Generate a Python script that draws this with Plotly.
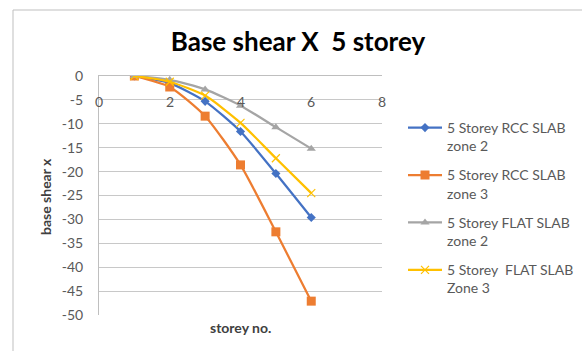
import plotly.graph_objects as go

storey = [1, 2, 3, 4, 5, 6]
rcc_zone2 = [0, -1.5, -5.3, -11.6, -20.4, -29.6]
rcc_zone3 = [0, -2.3, -8.4, -18.6, -32.6, -47.1]
flat_zone2 = [0, -0.8, -2.8, -6.2, -10.7, -15.2]
flat_zone3 = [0, -1.2, -4.1, -9.8, -17.2, -24.5]

names = ["5 Storey RCC SLAB<br>zone 2", "5 Storey RCC SLAB<br>zone 3",
         "5 Storey FLAT SLAB<br>zone 2", "5 Storey  FLAT SLAB<br>Zone 3"]
series = [rcc_zone2, rcc_zone3, flat_zone2, flat_zone3]
colors = ["#4472C4", "#ED7D31", "#A5A5A5", "#FFC000"]
symbols = ["diamond", "square", "triangle-up", "x-thin"]
sizes = [7, 9, 8, 8]

x_ticks = [0, 2, 4, 6, 8]
y_ticks = [0, -5, -10, -15, -20, -25, -30, -35, -40, -45, -50]
y_ticktext = [str(v) for v in y_ticks]

font = "Lato, 'Open Sans', sans-serif"
fig = go.Figure()
for i, (n, s, c, sym, sz) in enumerate(zip(names, series, colors, symbols, sizes)):
    marker = dict(symbol=sym, size=sz, color=c)
    if sym == "x-thin":
        marker["line"] = dict(color=c, width=1.2)
    fig.add_trace(go.Scatter(x=storey, y=s, name=n, mode="lines+markers", legendgroup=f"g{i}",
                             line=dict(color=c, width=2.25, shape="spline", smoothing=0.6),
                             marker=marker))

L, R, T, B = 99, 200, 76, 36
W, H = 582, 351
pw, ph = W - L - R, H - T - B
def px(x): return (x - L) / pw
def py(y): return 1 - (y - T) / ph

annotations = [
    dict(text="<b>storey no.</b>", xref="paper", yref="paper", x=px(240), y=py(327),
         xanchor="center", yanchor="middle", showarrow=False,
         font=dict(size=14, color="#404040", family=font)),
    dict(text="<b>base shear x</b>", xref="paper", yref="paper", x=px(45), y=py(197),
         xanchor="center", yanchor="middle", textangle=-90, showarrow=False,
         font=dict(size=14, color="#404040", family=font)),
]
for v in x_ticks:
    annotations.append(dict(text=str(v), xref="x", yref="paper", x=v, y=py(101),
                            xanchor="center", yanchor="middle", showarrow=False,
                            font=dict(size=14, color="#595959", family=font)))

fig.update_layout(
    width=W, height=H,
    margin=dict(l=L, r=R, t=T, b=B, autoexpand=False),
    paper_bgcolor="white", plot_bgcolor="white",
    font=dict(family=font, color="#595959", size=13),
    title=dict(text="<b>Base shear X  5 storey</b>", xref="container", x=298 / W, xanchor="center",
               yref="container", y=1 - 42 / H, yanchor="middle",
               font=dict(size=26, color="#000000", family=font)),
    showlegend=True,
    legend=dict(x=px(403), y=py(112), xanchor="left", yanchor="top", valign="top",
                font=dict(size=14, color="#595959", family=font),
                itemwidth=34, tracegroupgap=8, bgcolor="rgba(0,0,0,0)"),
    xaxis=dict(range=[0, 8], tickvals=x_ticks, side="top", showticklabels=False,
               showgrid=False, zeroline=False, showline=True, linecolor="#BFBFBF",
               linewidth=1, ticks="", automargin=False),
    yaxis=dict(range=[-50, 0], tickvals=y_ticks, ticktext=y_ticktext, showgrid=True,
               gridcolor="#C8C8C8", zeroline=False, showline=True, linecolor="#BFBFBF",
               linewidth=1, ticks="", ticklabelstandoff=12, automargin=False,
               tickfont=dict(size=14, color="#595959")),
    shapes=[dict(type="rect", xref="paper", yref="paper", x0=px(13), x1=px(600),
                 y0=py(360), y1=py(10), line=dict(color="#BFBFBF", width=1),
                 fillcolor="rgba(0,0,0,0)", layer="below")],
    annotations=annotations,
)
fig.write_html("out.html", config={"displayModeBar": False})

with open("out.html", "r", encoding="utf-8") as f:
    html = f.read()
html = html.replace("<head>", "<head><style>html,body{margin:0;padding:0;overflow:hidden;}</style>", 1)
with open("out.html", "w", encoding="utf-8") as f:
    f.write(html)
